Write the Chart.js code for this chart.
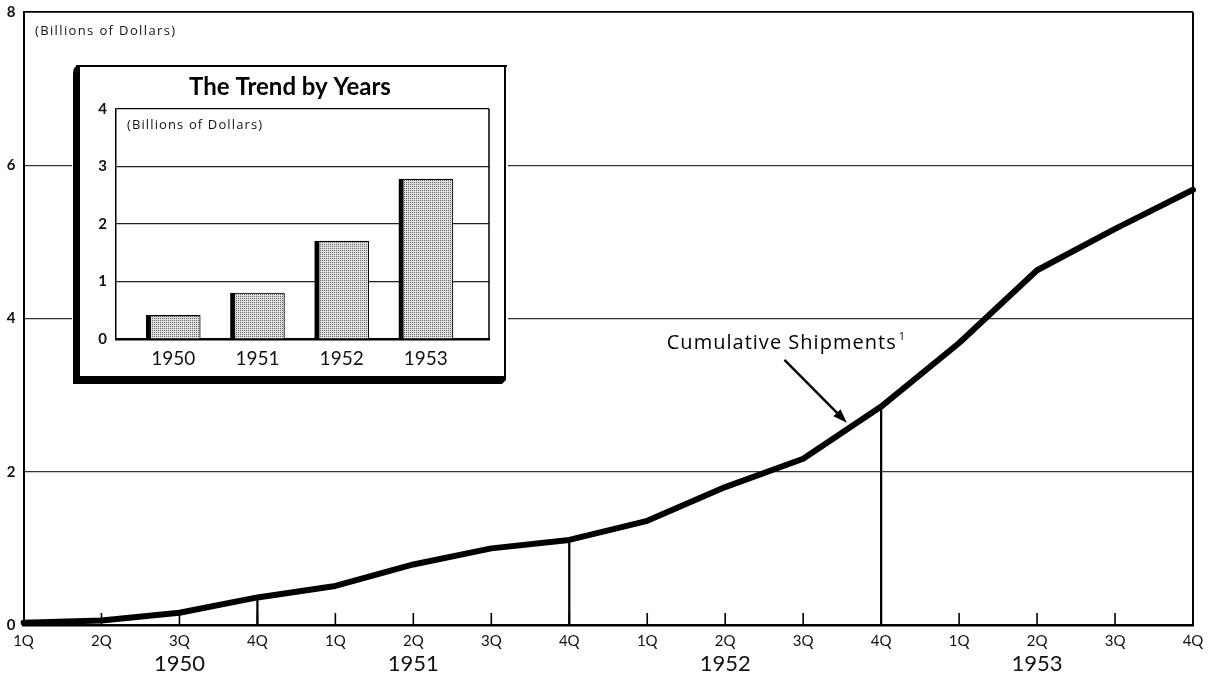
<!DOCTYPE html>
<html>
<head>
<meta charset="utf-8">
<script src="https://cdn.jsdelivr.net/npm/chart.js@4.4.1/dist/chart.umd.min.js"></script>
<style>
  html, body { margin: 0; padding: 0; background: #fff; }
  #wrap { position: relative; width: 1213px; height: 676px; overflow: hidden; }
  #main { position: absolute; left: 0; top: 0; }
  #inset { position: absolute; left: 72px; top: 64px; }
</style>
</head>
<body>
<div id="wrap">
  <canvas id="main" width="1213" height="676"></canvas>
  <canvas id="inset" width="436" height="321"></canvas>
</div>
<script>
// Quarterly cumulative shipments, 1950-1953 (billions of dollars)
const quarters = ['1Q', '2Q', '3Q', '4Q', '1Q', '2Q', '3Q', '4Q',
                  '1Q', '2Q', '3Q', '4Q', '1Q', '2Q', '3Q', '4Q'];
const yearRow = ['', '', '1950', '', '', '1951', '', '', '', '1952', '', '', '', '1953', '', ''];
const cumulativeShipments = [0.03, 0.06, 0.16, 0.36, 0.51, 0.79, 1.00, 1.11,
                             1.36, 1.80, 2.17, 2.85, 3.68, 4.63, 5.17, 5.68];
const yTicks = [0, 2, 4, 6, 8];

// Inset: shipments per year
const insetYears = [1950, 1951, 1952, 1953];
const annualShipments = [0.41, 0.80, 1.70, 2.78];
const insetTicks = [0, 1, 2, 3, 4];

const unitsNote = '(Billions of Dollars)';
const insetTitle = 'The Trend by Years';
const calloutText = 'Cumulative Shipments';

const FONT = 'Lato, "DejaVu Sans", sans-serif';
const WIDE = '"Open Sans", Lato, sans-serif';

// year-end drop lines: the last quarter of 1950-1952
const yearEndMarks = cumulativeShipments.map((v, i) => (i % 4 === 3 && i < cumulativeShipments.length - 1) ? v : null);

// draws text with letter spacing adjusted to a given width
function spacedText(ctx, text, x, y, width) {
  ctx.letterSpacing = '0px';
  const natural = ctx.measureText(text).width;
  const ls = Math.max(-1, Math.min(3, (width - natural) / (text.length - 1)));
  ctx.letterSpacing = ls.toFixed(2) + 'px';
  ctx.fillText(text, x, y);
  ctx.letterSpacing = '0px';
  return natural + ls * (text.length - 1);
}

const mainDecor = {
  id: 'mainDecor',
  beforeDraw(chart) {
    const ctx = chart.ctx;
    ctx.save();
    ctx.fillStyle = '#fff';
    ctx.fillRect(0, 0, chart.width, chart.height);
    ctx.restore();
  },
  beforeDatasetsDraw(chart) {
    const { ctx, chartArea: a, scales: { x } } = chart;
    ctx.save();
    ctx.strokeStyle = '#000';
    // quarter tick marks rising from the base line
    ctx.lineWidth = 1.6;
    for (let i = 1; i < quarters.length - 1; i++) {
      const px = x.getPixelForValue(i);
      ctx.beginPath();
      ctx.moveTo(px, a.bottom);
      ctx.lineTo(px, a.bottom - 12);
      ctx.stroke();
    }
    // right frame edge
    ctx.lineWidth = 2;
    ctx.beginPath();
    ctx.moveTo(a.right, a.top);
    ctx.lineTo(a.right, a.bottom);
    ctx.stroke();
    ctx.restore();
  },
  afterDraw(chart) {
    const { ctx, chartArea: a, scales: { x, y } } = chart;
    ctx.save();
    ctx.fillStyle = '#111';
    ctx.font = '13px ' + WIDE;
    ctx.textBaseline = 'middle';
    ctx.textAlign = 'left';
    spacedText(ctx, unitsNote, a.left + 11.5, a.top + 19, 140);

    // callout label with arrow to the curve
    ctx.font = '20px ' + WIDE;
    const tx = x.getPixelForValue(8.25);
    const ty = y.getPixelForValue(3.68);
    ctx.fillStyle = '#000';
    const w = spacedText(ctx, calloutText, tx, ty, 229);
    ctx.font = '11px ' + WIDE;
    ctx.fillText('1', tx + w + 3, ty - 6);

    const x0 = x.getPixelForValue(9.76), y0 = y.getPixelForValue(3.46);
    const x1 = x.getPixelForValue(10.56), y1 = y.getPixelForValue(2.64);
    const ang = Math.atan2(y1 - y0, x1 - x0);
    ctx.strokeStyle = '#000';
    ctx.lineWidth = 2.4;
    ctx.beginPath();
    ctx.moveTo(x0, y0);
    ctx.lineTo(x1 - 10 * Math.cos(ang), y1 - 10 * Math.sin(ang));
    ctx.stroke();
    ctx.beginPath();
    ctx.moveTo(x1, y1);
    ctx.lineTo(x1 - 14 * Math.cos(ang) + 5 * Math.sin(ang), y1 - 14 * Math.sin(ang) - 5 * Math.cos(ang));
    ctx.lineTo(x1 - 14 * Math.cos(ang) - 5 * Math.sin(ang), y1 - 14 * Math.sin(ang) + 5 * Math.cos(ang));
    ctx.closePath();
    ctx.fill();
    ctx.restore();
  }
};

new Chart(document.getElementById('main'), {
  type: 'line',
  data: {
    labels: quarters,
    datasets: [
      {
        type: 'line',
        data: cumulativeShipments,
        borderColor: '#000',
        borderWidth: 6,
        pointRadius: 0,
        tension: 0,
        borderJoinStyle: 'round',
        borderCapStyle: 'round',
        order: 0
      },
      {
        type: 'bar',
        data: yearEndMarks,
        backgroundColor: '#000',
        barThickness: 1.6,
        order: 1
      }
    ]
  },
  options: {
    responsive: false,
    animation: false,
    devicePixelRatio: 1,
    layout: { padding: { top: 12, right: 20, left: 0, bottom: 0 } },
    plugins: { legend: { display: false }, tooltip: { enabled: false } },
    scales: {
      x: {
        type: 'category',
        axis: 'x',
        position: 'bottom',
        offset: false,
        grid: { display: false, drawTicks: false },
        border: { display: true, color: '#000', width: 2.5 },
        ticks: { autoSkip: false, maxRotation: 0, padding: 7, color: '#111',
                 font: { family: FONT, size: 15 } },
        afterFit(s) { s.height = 25; }
      },
      xYear: {
        type: 'category',
        axis: 'x',
        position: 'bottom',
        labels: yearRow,
        offset: false,
        grid: { display: false, drawTicks: false },
        border: { display: false },
        ticks: { autoSkip: false, maxRotation: 0, padding: 1, color: '#111',
                 font: { family: FONT, size: 22 } },
        afterFit(s) { s.height = 26; }
      },
      y: {
        min: 0,
        max: 8,
        afterBuildTicks(s) { s.ticks = yTicks.map(v => ({ value: v })); },
        grid: {
          drawTicks: false,
          color: c => c.tick && c.tick.value === 0 ? 'rgba(0,0,0,0)' : (c.tick && c.tick.value === 8 ? '#000' : '#333'),
          lineWidth: c => c.tick && c.tick.value === 8 ? 1.8 : 1.3
        },
        border: { display: true, color: '#000', width: 2 },
        ticks: { padding: 8, color: '#111', font: { family: FONT, size: 15, weight: 'bold' } },
        afterFit(s) { s.width = 23.5; s.paddingTop = 0; s.paddingBottom = 0; }
      }
    }
  },
  plugins: [mainDecor]
});

// stipple fill for the inset bars
const dot = document.createElement('canvas');
dot.width = 2; dot.height = 2;
const dctx = dot.getContext('2d');
dctx.fillStyle = '#dedede';
dctx.fillRect(0, 0, 2, 2);
dctx.fillStyle = '#6a6a6a';
dctx.fillRect(0, 0, 1, 1);
const stipple = dctx.createPattern(dot, 'repeat');

const insetDecor = {
  id: 'insetDecor',
  beforeDraw(chart) {
    const { ctx, width: w, height: h } = chart;
    ctx.save();
    ctx.fillStyle = '#fff';
    ctx.fillRect(0, 0, w, h);
    ctx.fillStyle = '#000';
    ctx.fillRect(4, 1, w - 5, 2);       // top edge
    ctx.fillRect(w - 4, 1, 2, h - 6);   // right edge
    ctx.beginPath();                    // heavy left edge
    ctx.moveTo(1, 10);
    ctx.quadraticCurveTo(1, 1, 8, 1);
    ctx.lineTo(8, h - 2);
    ctx.lineTo(1, h - 2);
    ctx.closePath();
    ctx.fill();
    ctx.beginPath();                    // heavy bottom edge
    ctx.moveTo(1, h - 9);
    ctx.lineTo(w - 2, h - 9);
    ctx.lineTo(w - 2, h - 5);
    ctx.lineTo(w - 6, h - 1);
    ctx.lineTo(1, h - 1);
    ctx.closePath();
    ctx.fill();
    ctx.restore();
  },
  afterDraw(chart) {
    const { ctx, chartArea: a } = chart;
    ctx.save();
    ctx.strokeStyle = '#000';
    ctx.lineWidth = 1.5;
    ctx.beginPath();
    ctx.moveTo(a.right, a.top);
    ctx.lineTo(a.right, a.bottom);
    ctx.stroke();
    ctx.fillStyle = '#111';
    ctx.font = '13px ' + WIDE;
    ctx.textBaseline = 'middle';
    spacedText(ctx, unitsNote, a.left + 11, a.top + 16, 135);
    ctx.restore();
  }
};

new Chart(document.getElementById('inset'), {
  type: 'bar',
  data: {
    datasets: [{
      data: insetYears.map((yr, i) => ({ x: yr, y: annualShipments[i] })),
      backgroundColor: stipple,
      borderColor: '#000',
      borderWidth: { left: 5, top: 1.2, right: 1, bottom: 0 },
      borderSkipped: 'bottom',
      barThickness: 54
    }]
  },
  options: {
    responsive: false,
    animation: false,
    devicePixelRatio: 1,
    layout: { padding: 0 },
    plugins: {
      legend: { display: false },
      tooltip: { enabled: false },
      title: {
        display: true,
        text: insetTitle,
        color: '#000',
        font: { family: FONT, size: 24, weight: 'bold' },
        padding: { top: 9, bottom: 7 }
      }
    },
    scales: {
      x: {
        type: 'linear',
        min: 1949.32,
        max: 1953.75,
        offset: false,
        afterBuildTicks(s) { s.ticks = insetYears.map(v => ({ value: v })); },
        grid: { display: false, drawTicks: false },
        border: { display: true, color: '#000', width: 2.5 },
        ticks: { callback: v => String(v), padding: 8, color: '#111',
                 font: { family: FONT, size: 19 } },
        afterFit(s) { s.height = 46; s.paddingLeft = 0; s.paddingRight = 0; }
      },
      y: {
        min: 0,
        max: 4,
        afterBuildTicks(s) { s.ticks = insetTicks.map(v => ({ value: v })); },
        grid: {
          drawTicks: false,
          color: c => c.tick && c.tick.value === 4 ? '#000' : '#222',
          lineWidth: 1.2
        },
        border: { display: true, color: '#000', width: 1.5 },
        ticks: { padding: 9, color: '#111', font: { family: FONT, size: 15, weight: 'bold' } },
        afterFit(s) { s.width = 44; s.paddingTop = 0; s.paddingBottom = 0; }
      },
      // empty margin column to the right of the plot
      yMargin: {
        type: 'linear',
        axis: 'y',
        position: 'right',
        display: true,
        grid: { display: false, drawTicks: false },
        border: { display: false },
        ticks: { display: false },
        afterFit(s) { s.width = 19; s.paddingTop = 0; s.paddingBottom = 0; }
      }
    }
  },
  plugins: [insetDecor]
});
</script>
</body>
</html>
